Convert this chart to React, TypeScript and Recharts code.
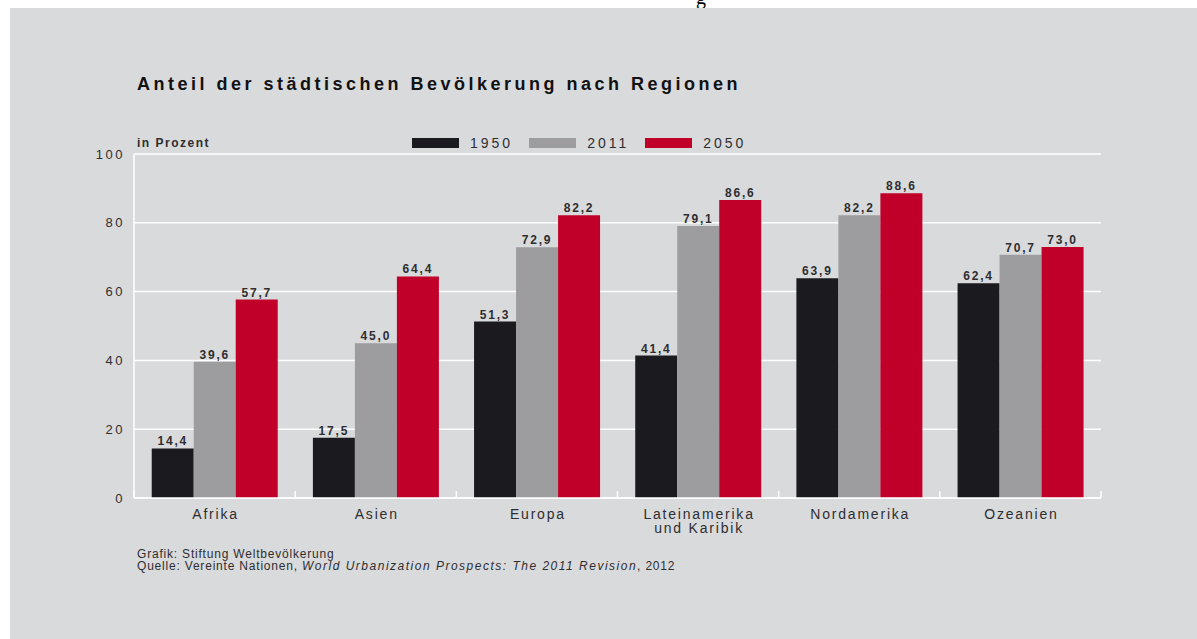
import { BarChart, Bar, XAxis, YAxis, CartesianGrid, LabelList } from 'recharts';

// Anteil der städtischen Bevölkerung (in Prozent)
const regions = ['Afrika', 'Asien', 'Europa', 'Lateinamerika\nund Karibik', 'Nordamerika', 'Ozeanien'];
const values1950 = [14.4, 17.5, 51.3, 41.4, 63.9, 62.4];
const values2011 = [39.6, 45.0, 72.9, 79.1, 82.2, 70.7];
const values2050 = [57.7, 64.4, 82.2, 86.6, 88.6, 73.0];
const yTicks = [0, 20, 40, 60, 80, 100];
const seriesKeys = ['1950', '2011', '2050'];
const seriesColors = ['#1b1a1f', '#9d9d9f', '#c1002a'];

const FONT = '"Liberation Sans", Arial, Helvetica, sans-serif';
const TEXT = '#2e2e30';
const BG = '#d9dadc';

const chartData = regions.map((region, i) => ({
  region,
  '1950': values1950[i],
  '2011': values2011[i],
  '2050': values2050[i],
}));

const formatValue = (v: any) => Number(v).toFixed(1).replace('.', ',');

function RegionTick(props: any) {
  const { x, y, payload, index, width } = props;
  const band = (width || 966) / regions.length;
  const lines = String(payload.value).split('\n');
  return (
    <g>
      <line x1={x - band / 2} x2={x - band / 2} y1={y} y2={y - 7} stroke="#fff" strokeWidth={1.5} />
      {index === regions.length - 1 && (
        <line x1={x + band / 2} x2={x + band / 2} y1={y} y2={y - 7} stroke="#fff" strokeWidth={1.5} />
      )}
      <text x={x} y={y + 21} textAnchor="middle" fill={TEXT} fontSize={14} letterSpacing={1.8} fontFamily={FONT}>
        {lines.map((line, i) => (
          <tspan key={i} x={x + 1} dy={i === 0 ? 0 : 14}>
            {line}
          </tspan>
        ))}
      </text>
    </g>
  );
}

function ChartLegend() {
  return (
    <div style={{ position: 'absolute', left: 412, top: 135, display: 'flex', alignItems: 'center', fontFamily: FONT }}>
      {seriesKeys.map((key, i) => (
        <div key={key} style={{ display: 'flex', alignItems: 'center', marginRight: 16 }}>
          <span style={{ width: 47, height: 10, background: seriesColors[i], display: 'inline-block', marginRight: 11 }} />
          <span style={{ fontSize: 14, color: TEXT, letterSpacing: 3 }}>{key}</span>
        </div>
      ))}
    </div>
  );
}

export default function App() {
  return (
    <div style={{ position: 'absolute', left: 0, top: 0, width: 1197, height: 639, background: '#fff', overflow: 'hidden' }}>
      <div style={{ position: 'absolute', left: 696, top: -14, fontFamily: 'serif', fontSize: 20, color: '#000' }}>g</div>
      <div style={{ position: 'absolute', left: 10, top: 8, width: 1187, height: 631, background: BG }} />

      <div
        style={{
          position: 'absolute',
          left: 137,
          top: 74,
          fontFamily: FONT,
          fontWeight: 'bold',
          fontSize: 18,
          letterSpacing: 3.5,
          color: '#111',
          whiteSpace: 'nowrap',
        }}
      >
        Anteil der städtischen Bevölkerung nach Regionen
      </div>
      <div
        style={{
          position: 'absolute',
          left: 137,
          top: 136,
          fontFamily: FONT,
          fontWeight: 'bold',
          fontSize: 12,
          letterSpacing: 1.5,
          color: TEXT,
          whiteSpace: 'nowrap',
        }}
      >
        in Prozent
      </div>

      <ChartLegend />

      <div style={{ position: 'absolute', left: 0, top: 0 }}>
        <BarChart
          width={1197}
          height={639}
          data={chartData}
          margin={{ top: 154, right: 96, left: 94, bottom: 101 }}
          barCategoryGap="11%"
          barGap={0}
        >
          <CartesianGrid vertical={false} stroke="#ffffff" strokeWidth={1.5} />
          <XAxis
            dataKey="region"
            axisLine={{ stroke: '#ffffff', strokeWidth: 1.5 }}
            tickLine={false}
            tickSize={0}
            tickMargin={0}
            interval={0}
            height={40}
            tick={<RegionTick />}
          />
          <YAxis
            domain={[0, 100]}
            ticks={yTicks}
            width={40}
            axisLine={{ stroke: '#ffffff', strokeWidth: 1.5 }}
            tickLine={false}
            tickSize={0}
            tickMargin={9}
            tick={{ fill: TEXT, fontSize: 13, fontFamily: FONT, letterSpacing: 2.5 }}
          />
          {seriesKeys.map((key, i) => (
            <Bar key={key} dataKey={key} fill={seriesColors[i]} isAnimationActive={false}>
              <LabelList
                dataKey={key}
                position="top"
                offset={3}
                formatter={formatValue}
                fill={TEXT}
                fontSize={12}
                fontWeight="bold"
                fontFamily={FONT}
                letterSpacing={1.8}
              />
            </Bar>
          ))}
        </BarChart>
      </div>

      <div
        style={{
          position: 'absolute',
          left: 137,
          top: 548,
          fontFamily: FONT,
          fontSize: 12,
          letterSpacing: 0.8,
          lineHeight: '12px',
          color: TEXT,
          whiteSpace: 'nowrap',
        }}
      >
        <div>Grafik: Stiftung Weltbevölkerung</div>
        <div>
          Quelle: Vereinte Nationen, <i style={{ letterSpacing: 1.5 }}>World Urbanization Prospects: The 2011 Revision</i>, 2012
        </div>
      </div>
    </div>
  );
}
